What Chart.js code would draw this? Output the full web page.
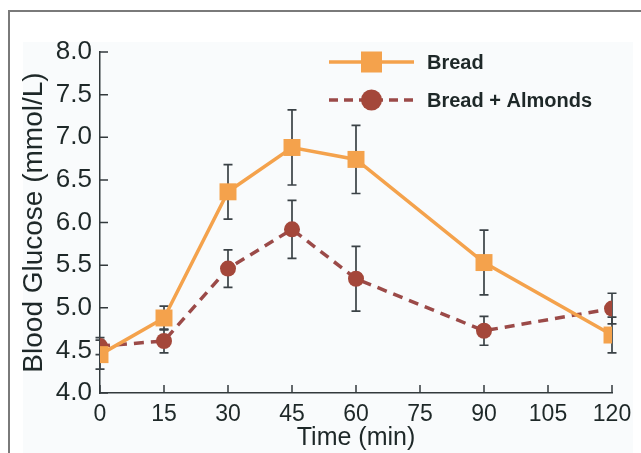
<!DOCTYPE html>
<html>
<head>
<meta charset="utf-8">
<script src="https://cdn.jsdelivr.net/npm/chart.js@4.4.1/dist/chart.umd.min.js"></script>
<style>
  html, body { margin: 0; padding: 0; background: #ffffff; }
  #wrap { position: relative; width: 641px; height: 453px; }
</style>
</head>
<body>
<div id="wrap"><canvas id="Grafico" width="641" height="453"></canvas></div>
<script>
// time points (min)
const tiempos = [0, 15, 30, 45, 60, 90, 120];
// Bread
const pan_valores = [4.45, 4.88, 6.36, 6.88, 6.74, 5.53, 4.68];
const pan_error = [0.17, 0.14, 0.32, 0.44, 0.40, 0.38, 0.21];
// Bread + Almonds
const almendras_valores = [4.55, 4.61, 5.46, 5.92, 5.34, 4.73, 4.99];
const almendras_error = [0.10, 0.14, 0.22, 0.34, 0.38, 0.17, 0.18];

const y_ticks = [4.0, 4.5, 5.0, 5.5, 6.0, 6.5, 7.0, 7.5, 8.0];
const x_ticks = [0, 15, 30, 45, 60, 75, 90, 105, 120];

const color_pan = '#f4a24c';
const color_almendra = '#a4473a';
const color_linea_almendra = '#9b4a48';
const color_eje = '#333a3c';
const color_texto = '#1e2828';

Chart.defaults.font.family = '"Liberation Sans", Arial, sans-serif';

const puntos = (xs, ys) => xs.map((x, i) => ({ x: x, y: ys[i] }));

// fondo, marco, barras de error, ticks internos y leyenda
const extras = {
    id: 'extras',
    beforeDraw(chart) {
        const ctx = chart.ctx;
        ctx.save();
        ctx.fillStyle = '#ffffff';
        ctx.fillRect(0, 0, chart.width, chart.height);
        ctx.fillStyle = '#f9fbfc';
        ctx.fillRect(23, 42, 610, chart.height - 42);
        ctx.strokeStyle = '#7a7a7a';
        ctx.lineWidth = 2;
        ctx.beginPath();
        ctx.moveTo(9, chart.height);
        ctx.lineTo(9, 11);
        ctx.lineTo(chart.width, 11);
        ctx.stroke();
        ctx.restore();
    },
    beforeDatasetsDraw(chart) {
        const ctx = chart.ctx;
        const xs = chart.scales.x;
        const ys = chart.scales.y;
        ctx.save();
        // ticks hacia dentro
        ctx.strokeStyle = color_eje;
        ctx.lineWidth = 1.5;
        ctx.beginPath();
        y_ticks.forEach((v) => {
            const py = ys.getPixelForValue(v);
            ctx.moveTo(xs.left, py);
            ctx.lineTo(xs.left + 8, py);
        });
        x_ticks.forEach((v) => {
            const px = xs.getPixelForValue(v);
            ctx.moveTo(px, ys.bottom);
            ctx.lineTo(px, ys.bottom - 8);
        });
        ctx.stroke();
        // barras de error
        ctx.strokeStyle = '#3b4246';
        ctx.lineWidth = 1.7;
        const series = [[almendras_valores, almendras_error], [pan_valores, pan_error]];
        series.forEach(([vals, errs]) => {
            for (let i = 0; i < tiempos.length; i++) {
                const px = xs.getPixelForValue(tiempos[i]);
                const top = ys.getPixelForValue(vals[i] + errs[i]);
                const bot = ys.getPixelForValue(vals[i] - errs[i]);
                ctx.beginPath();
                ctx.moveTo(px, top); ctx.lineTo(px, bot);
                ctx.moveTo(px - 4.5, top); ctx.lineTo(px + 4.5, top);
                ctx.moveTo(px - 4.5, bot); ctx.lineTo(px + 4.5, bot);
                ctx.stroke();
            }
        });
        ctx.restore();
    },
    afterDraw(chart) {
        const ctx = chart.ctx;
        const a = chart.chartArea;
        const lx = a.left + 229;
        const ly1 = a.top + 10;
        const ly2 = a.top + 48;
        ctx.save();
        // Bread
        ctx.strokeStyle = color_pan;
        ctx.lineWidth = 3.5;
        ctx.beginPath();
        ctx.moveTo(lx, ly1); ctx.lineTo(lx + 85, ly1);
        ctx.stroke();
        ctx.fillStyle = color_pan;
        ctx.fillRect(lx + 32, ly1 - 10.5, 21, 21);
        // Bread + Almonds
        ctx.strokeStyle = color_linea_almendra;
        ctx.setLineDash([9, 6]);
        ctx.beginPath();
        ctx.moveTo(lx, ly2); ctx.lineTo(lx + 85, ly2);
        ctx.stroke();
        ctx.setLineDash([]);
        ctx.fillStyle = color_almendra;
        ctx.beginPath();
        ctx.arc(lx + 42.5, ly2, 10.5, 0, Math.PI * 2);
        ctx.fill();
        ctx.fillStyle = color_texto;
        ctx.font = 'bold 20px "Liberation Sans", Arial, sans-serif';
        ctx.textBaseline = 'middle';
        ctx.fillText(chart.data.datasets[0].label, lx + 98, ly1 + 1);
        ctx.fillText(chart.data.datasets[1].label, lx + 98, ly2 + 1);
        ctx.restore();
    }
};

const ctx = document.getElementById('Grafico');

new Chart(ctx, {
    type: 'line',
    data: {
        datasets: [{
            label: 'Bread',
            data: puntos(tiempos, pan_valores),
            borderColor: color_pan,
            backgroundColor: color_pan,
            borderWidth: 3.5,
            pointStyle: 'rect',
            pointRadius: 12,
            pointBorderWidth: 0,
            tension: 0
        }, {
            label: 'Bread + Almonds',
            data: puntos(tiempos, almendras_valores),
            borderColor: color_linea_almendra,
            backgroundColor: color_almendra,
            borderWidth: 3.5,
            borderDash: [10, 7],
            pointStyle: 'circle',
            pointRadius: 8,
            pointBorderWidth: 0,
            tension: 0
        }]
    },
    options: {
        responsive: false,
        animation: false,
        events: [],
        layout: { padding: { left: 0, top: 52, right: 29, bottom: 0 } },
        plugins: {
            legend: { display: false },
            tooltip: { enabled: false }
        },
        scales: {
            x: {
                type: 'linear',
                min: 0,
                max: 120,
                afterBuildTicks: (scale) => { scale.ticks = x_ticks.map((v) => ({ value: v })); },
                afterFit: (scale) => { scale.height = 60; },
                grid: { display: false, drawTicks: false },
                border: { display: true, color: color_eje, width: 1.5 },
                ticks: {
                    color: color_texto,
                    font: { size: 23 },
                    padding: 8,
                    maxRotation: 0,
                    autoSkip: false
                },
                title: {
                    display: true,
                    text: 'Time (min)',
                    color: color_texto,
                    font: { size: 25 },
                    padding: { top: 0, bottom: 0 }
                }
            },
            y: {
                min: 4,
                max: 8,
                afterBuildTicks: (scale) => { scale.ticks = y_ticks.map((v) => ({ value: v })); },
                afterFit: (scale) => { scale.width = 100; },
                grid: { display: false, drawTicks: false },
                border: { display: true, color: color_eje, width: 1.5 },
                ticks: {
                    color: color_texto,
                    font: { size: 26 },
                    padding: 8,
                    callback: (v) => Number(v).toFixed(1)
                },
                title: {
                    display: true,
                    text: 'Blood Glucose (mmol/L)',
                    color: color_texto,
                    font: { size: 28 },
                    padding: { top: 17, bottom: 0 }
                }
            }
        }
    },
    plugins: [extras]
});
</script>
</body>
</html>
